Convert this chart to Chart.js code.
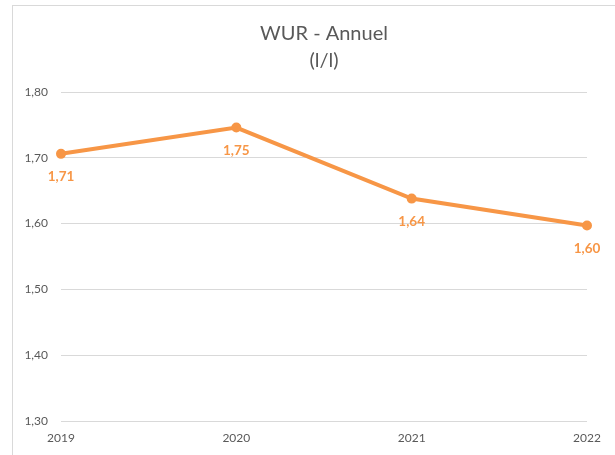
<!DOCTYPE html>
<html>
<head>
<meta charset="utf-8">
<script src="https://cdn.jsdelivr.net/npm/chart.js@4"></script>
<style>
  html, body { margin: 0; padding: 0; background: #fff; }
  #frame {
    position: absolute; left: 12px; top: 5px; width: 603px; height: 450px;
    border-left: 1px solid #d9d9d9; border-top: 1px solid #d9d9d9;
  }
  canvas { display: block; }
</style>
</head>
<body>
<div id="frame"><canvas id="wur-chart" width="602" height="449"></canvas></div>
<script>
  'use strict';

  var years = ['2019', '2020', '2021', '2022'];
  var wurValues = [1.706, 1.746, 1.638, 1.597];
  var yTicks = [1.3, 1.4, 1.5, 1.6, 1.7, 1.8];

  var orange = '#F79646';
  var grey = '#595959';

  function frNumber(v) {
    return v.toFixed(2).replace('.', ',');
  }

  // draw the value under each point, Excel style
  var pointLabels = {
    id: 'pointLabels',
    afterDatasetsDraw: function(chart) {
      var ctx = chart.ctx;
      var meta = chart.getDatasetMeta(0);
      ctx.save();
      ctx.font = 'bold 13.5px Lato';
      ctx.fillStyle = orange;
      ctx.textAlign = 'center';
      ctx.textBaseline = 'middle';
      meta.data.forEach(function(pt, i) {
        ctx.fillText(frNumber(wurValues[i]), pt.x, pt.y + 23);
      });
      ctx.restore();
    }
  };

  var context = document.getElementById('wur-chart').getContext('2d');
  var chart = new Chart(context, {
    type: 'line',
    data: {
      labels: years,
      datasets: [{
        label: 'WUR',
        data: wurValues,
        borderColor: orange,
        backgroundColor: orange,
        borderWidth: 4,
        pointRadius: 3,
        pointHoverRadius: 3,
        tension: 0
      }]
    },
    options: {
      responsive: false,
      animation: false,
      layout: { padding: { top: 0, right: 28, left: 0, bottom: 0 } },
      plugins: {
        legend: { display: false },
        tooltip: { enabled: false },
        title: {
          display: true,
          fullSize: false,
          text: ['WUR - Annuel', '(l/l)'],
          color: grey,
          font: { family: 'Lato', size: 20, weight: 'normal', lineHeight: 1.35 },
          padding: { top: 14, bottom: 18 }
        }
      },
      scales: {
        x: {
          offset: false,
          grid: { display: false, drawTicks: false },
          border: { display: false },
          ticks: {
            color: grey,
            font: { family: 'Lato', size: 12 },
            padding: 10,
            maxRotation: 0
          },
          afterFit: function(scale) { scale.height = 34; }
        },
        y: {
          min: 1.3,
          max: 1.8,
          afterBuildTicks: function(scale) {
            scale.ticks = yTicks.map(function(v) { return { value: v }; });
          },
          grid: { color: '#d9d9d9', drawTicks: false },
          border: { display: false },
          ticks: {
            color: grey,
            font: { family: 'Lato', size: 12 },
            padding: 13,
            callback: function(v) { return frNumber(v); }
          },
          afterFit: function(scale) { scale.width = 48; }
        }
      }
    },
    plugins: [pointLabels]
  });
</script>
</body>
</html>
